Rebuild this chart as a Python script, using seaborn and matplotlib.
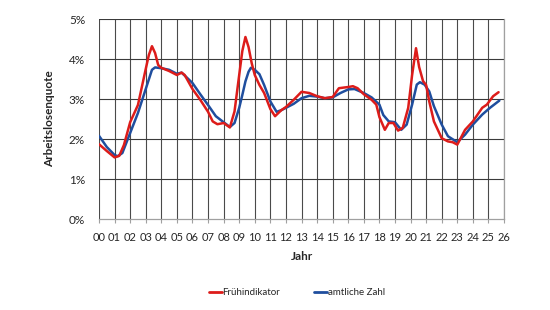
import numpy as np
import pandas as pd
import matplotlib
matplotlib.use("Agg")
import matplotlib.pyplot as plt
import seaborn as sns
from matplotlib.lines import Line2D

# ---- data (years since 2000, unemployment rate in %) ----
fruh_t = [0.0, 0.5, 1.0, 1.3, 1.6, 2.0, 2.5, 2.75, 3.0, 3.2, 3.4, 3.6, 3.8, 4.0, 4.5, 5.0, 5.3, 5.5,
          6.0, 6.5, 7.0, 7.3, 7.6, 8.0, 8.4, 8.7, 9.0, 9.2, 9.4, 9.6, 9.8, 10.0, 10.3, 10.6,
          11.0, 11.3, 11.7, 12.0, 12.5, 13.0, 13.5, 14.0, 14.5, 15.0, 15.4, 16.0, 16.3, 16.6,
          17.0, 17.5, 17.8, 18.0, 18.35, 18.6, 18.9, 19.2, 19.5, 19.85, 20.1, 20.35, 20.55,
          20.8, 21.0, 21.2, 21.5, 22.0, 22.4, 22.7, 23.0, 23.5, 24.0, 24.6, 24.9, 25.3, 25.65]
fruh_v = [1.87, 1.70, 1.54, 1.58, 1.85, 2.42, 2.85, 3.30, 3.75, 4.10, 4.32, 4.15, 3.85, 3.78, 3.70,
          3.60, 3.66, 3.60, 3.25, 2.98, 2.68, 2.44, 2.37, 2.40, 2.29, 2.69, 3.60, 4.20, 4.55,
          4.30, 3.90, 3.60, 3.35, 3.15, 2.75, 2.57, 2.72, 2.80, 2.98, 3.18, 3.15, 3.07, 3.02,
          3.05, 3.27, 3.30, 3.32, 3.27, 3.12, 2.98, 2.86, 2.55, 2.23, 2.40, 2.40, 2.21, 2.28,
          2.78, 3.60, 4.27, 3.80, 3.45, 3.35, 2.94, 2.44, 2.02, 1.94, 1.92, 1.86, 2.23, 2.44,
          2.78, 2.86, 3.07, 3.17]

amtl_t = [0.0, 0.5, 1.0, 1.2, 1.5, 2.0, 2.5, 3.0, 3.4, 3.6, 4.0, 4.5, 5.0, 5.3, 5.6, 6.0,
          6.5, 7.0, 7.5, 8.0, 8.4, 8.7, 9.0, 9.2, 9.4, 9.6, 9.75, 10.0, 10.3, 10.6, 11.0, 11.4, 11.7,
          12.0, 12.5, 13.0, 13.5, 14.0, 14.5, 15.0, 15.5, 16.0, 16.4, 17.0, 17.5, 18.0, 18.25,
          18.6, 19.0, 19.4, 19.75, 20.1, 20.4, 20.6, 20.9, 21.2, 21.5, 22.0, 22.4, 23.0, 23.5,
          24.0, 24.6, 25.1, 25.7]
amtl_v = [2.08, 1.80, 1.60, 1.57, 1.65, 2.15, 2.65, 3.25, 3.73, 3.79, 3.77, 3.73, 3.63, 3.66,
          3.55, 3.40, 3.12, 2.85, 2.57, 2.42, 2.30, 2.40, 2.78, 3.10, 3.44, 3.68, 3.78, 3.73, 3.62, 3.35,
          2.94, 2.68, 2.72, 2.78, 2.88, 3.02, 3.08, 3.06, 3.02, 3.04, 3.15, 3.24, 3.25, 3.15,
          3.04, 2.86, 2.60, 2.44, 2.42, 2.23, 2.36, 2.86, 3.36, 3.42, 3.36, 3.19, 2.82, 2.36,
          2.07, 1.92, 2.11, 2.36, 2.61, 2.78, 2.96]

series_names = ["Frühindikator", "amtliche Zahl"]
year_labels = [f"{i:02d}" for i in range(27)]
y_ticks = [0, 1, 2, 3, 4, 5]

df = pd.concat([
    pd.DataFrame({"Jahr": fruh_t, "Quote": fruh_v, "Reihe": series_names[0]}),
    pd.DataFrame({"Jahr": amtl_t, "Quote": amtl_v, "Reihe": series_names[1]}),
], ignore_index=True)

sns.set_theme(style="white")
plt.rcParams["font.family"] = ["Lato", "DejaVu Sans"]

fig = plt.figure(figsize=(5.5, 3.1), dpi=100)
ax = fig.add_axes([0.18, 0.2935, 0.7364, 0.6452])

palette = {series_names[0]: "#DD1C1A", series_names[1]: "#1F4E9E"}
sns.lineplot(data=df, x="Jahr", y="Quote", hue="Reihe", hue_order=series_names[::-1],
             palette=palette, linewidth=1.8, ax=ax, legend=False, sort=False,
             solid_joinstyle="round", solid_capstyle="round")

ax.set_xlim(0, 26)
ax.set_ylim(0, 5)
ax.set_xticks(range(27))
ax.set_xticklabels(year_labels, fontsize=8)
ax.set_yticks(y_ticks)
ax.set_yticklabels([f"{v}%" for v in y_ticks], fontsize=8.5)

for x in range(27):
    ax.axvline(x, color="#4a4a4a", linewidth=0.8, zorder=0)
for y in y_ticks[1:]:
    ax.axhline(y, color="#3a3a3a", linewidth=0.8, zorder=0)

for s in ["top", "left"]:
    ax.spines[s].set_visible(False)
ax.spines["bottom"].set_color("#a0a0a0")
ax.spines["bottom"].set_linewidth(0.9)
ax.spines["right"].set_color("#a0a0a0")
ax.spines["right"].set_linewidth(0.9)

ax.tick_params(axis="x", bottom=True, length=3, width=0.8, color="#a0a0a0", pad=6)
ax.tick_params(axis="y", left=False, pad=4)

ax.set_xlabel("Jahr", fontsize=8.5, fontweight="bold", labelpad=6)
ax.set_ylabel("Arbeitslosenquote", fontsize=8.5, fontweight="bold", labelpad=10)

handles = [Line2D([], [], color=palette[n], linewidth=2) for n in series_names]
fig.legend(handles, series_names, loc="center", bbox_to_anchor=(0.54, 0.055), ncol=2,
           frameon=False, fontsize=7, handlelength=1.3, handletextpad=0.1, columnspacing=3.5)

fig.savefig("out.png", dpi=100)
